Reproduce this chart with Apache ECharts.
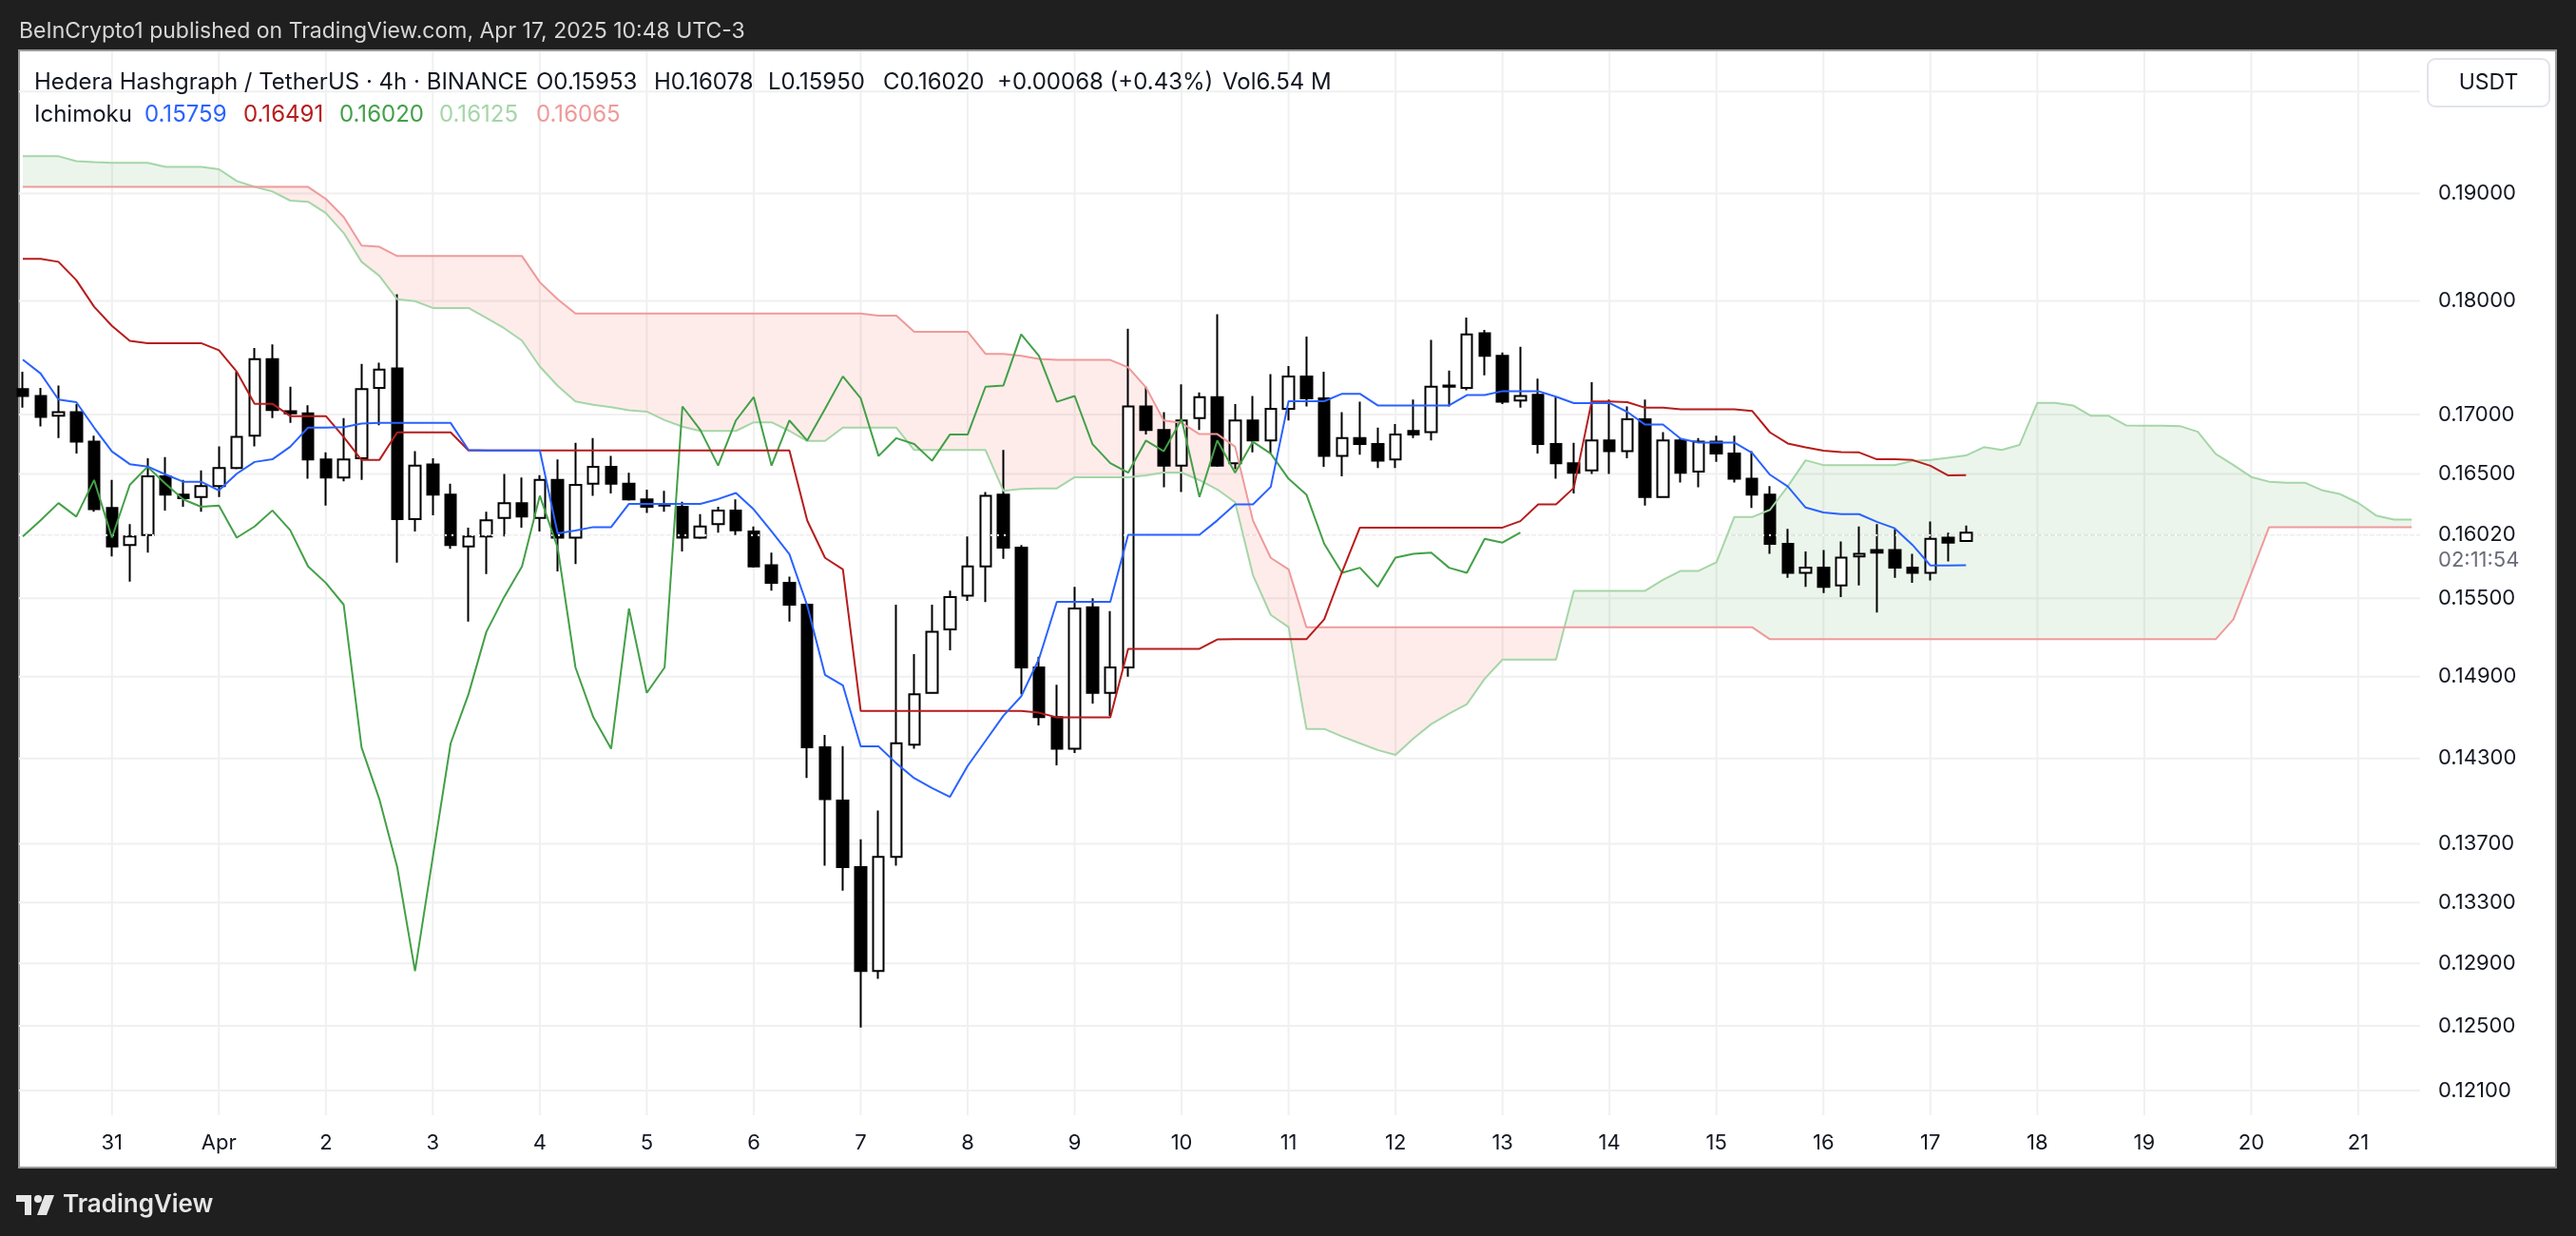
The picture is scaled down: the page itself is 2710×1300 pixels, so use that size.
<!DOCTYPE html>
<html>
<head>
<meta charset="utf-8">
<script src="https://cdn.jsdelivr.net/npm/echarts@6/dist/echarts.min.js"></script>
<style>
html,body{margin:0;padding:0;background:#1f1f1f;}
#chart{width:2710px;height:1300px;}
</style>
</head>
<body>
<div id="chart"></div>
<script>
// ---- time layout (hours relative to Apr 1 00:00) ----
const firstBarHour = -44;     // Mar 30 04:00
const barStepHours = 4;       // 4h candles
const chikouShift = 25;       // lagging span displacement (bars)

// ---- candles (Mar 30 04:00 ... Apr 17 08:00) ----
const opens = [0.1722,0.1716,0.1699,0.1702,0.1677,0.1622,0.1592,0.1600,0.1648,0.1633,
0.1631,0.1640,0.1655,0.1682,0.1748,0.1703,0.1701,0.1662,0.1647,0.1663,
0.1723,0.1740,0.1613,0.1658,0.1633,0.1591,0.1599,0.1614,0.1626,0.1614,
0.1645,0.1598,0.1642,0.1656,0.1642,0.1629,0.1625,0.1623,0.1598,0.1609,
0.1620,0.1603,0.1576,0.1562,0.1545,0.1438,0.1400,0.1354,0.1285,0.1361,
0.1440,0.1478,0.1526,0.1552,0.1575,0.1633,0.1590,0.1497,0.1460,0.1437,
0.1543,0.1478,0.1497,0.1707,0.1687,0.1657,0.1697,0.1715,0.1659,0.1695,
0.1678,0.1705,0.1733,0.1714,0.1665,0.1680,0.1675,0.1662,0.1686,0.1685,
0.1724,0.1723,0.1771,0.1751,0.1712,0.1717,0.1675,0.1659,0.1653,0.1678,
0.1669,0.1696,0.1631,0.1678,0.1652,0.1677,0.1667,0.1646,0.1633,0.1593,
0.1570,0.1574,0.1560,0.1583,0.1588,0.1588,0.1574,0.1570,0.1598,0.15953];
const closes = [0.1716,0.1698,0.1702,0.1677,0.1621,0.1591,0.1599,0.1648,0.1633,0.1630,
0.1640,0.1655,0.1681,0.1748,0.1704,0.1701,0.1662,0.1647,0.1662,0.1722,
0.1739,0.1613,0.1657,0.1633,0.1592,0.1599,0.1612,0.1626,0.1615,0.1645,
0.1598,0.1641,0.1656,0.1642,0.1629,0.1623,0.1624,0.1598,0.1607,0.1620,
0.1604,0.1575,0.1562,0.1545,0.1438,0.1401,0.1354,0.1285,0.1361,0.1441,
0.1477,0.1524,0.1551,0.1575,0.1632,0.1590,0.1497,0.1460,0.1437,0.1542,
0.1478,0.1497,0.1707,0.1687,0.1657,0.1695,0.1715,0.1657,0.1695,0.1678,
0.1705,0.1733,0.1714,0.1665,0.1680,0.1675,0.1661,0.1683,0.1683,0.1724,
0.1725,0.1770,0.1751,0.1711,0.1716,0.1675,0.1659,0.1651,0.1678,0.1669,
0.1696,0.1631,0.1678,0.1651,0.1677,0.1667,0.1646,0.1633,0.1593,0.1570,
0.1574,0.1559,0.1582,0.1585,0.1586,0.1574,0.1570,0.1597,0.1594,0.16020];
const lows = [0.1706,0.1690,0.1680,0.1667,0.1619,0.1583,0.1563,0.1586,0.1620,0.1623,
0.1619,0.1631,0.1654,0.1673,0.1697,0.1693,0.1646,0.1624,0.1644,0.1645,
0.1691,0.1578,0.1603,0.1616,0.1589,0.1532,0.1569,0.1599,0.1606,0.1603,
0.1571,0.1577,0.1632,0.1634,0.1628,0.1618,0.1619,0.1587,0.1597,0.1602,
0.1600,0.1574,0.1556,0.1532,0.1416,0.1355,0.1338,0.1249,0.1280,0.1355,
0.1437,0.1478,0.1510,0.1548,0.1547,0.1581,0.1477,0.1454,0.1425,0.1434,
0.1470,0.1461,0.1490,0.1683,0.1639,0.1635,0.1687,0.1656,0.1654,0.1668,
0.1667,0.1695,0.1707,0.1656,0.1648,0.1666,0.1655,0.1655,0.1680,0.1678,
0.1707,0.1721,0.1734,0.1709,0.1706,0.1667,0.1646,0.1634,0.1650,0.1650,
0.1663,0.1624,0.1631,0.1643,0.1639,0.1660,0.1643,0.1622,0.1585,0.1566,
0.1559,0.1554,0.1551,0.1560,0.1539,0.1566,0.1562,0.1564,0.1579,0.15950];
const highs = [0.1737,0.1723,0.1725,0.1709,0.1682,0.1645,0.1609,0.1663,0.1664,0.1645,
0.1653,0.1673,0.1737,0.1758,0.1761,0.1724,0.1708,0.1668,0.1697,0.1744,
0.1745,0.1806,0.1669,0.1663,0.1642,0.1606,0.1619,0.1650,0.1647,0.1649,
0.1662,0.1676,0.1680,0.1665,0.1651,0.1637,0.1636,0.1627,0.1617,0.1623,
0.1629,0.1607,0.1586,0.1567,0.1546,0.1447,0.1439,0.1373,0.1393,0.1545,
0.1507,0.1545,0.1556,0.1599,0.1635,0.1670,0.1592,0.1505,0.1484,0.1559,
0.1550,0.1540,0.1775,0.1724,0.1702,0.1726,0.1719,0.1788,0.1709,0.1716,
0.1735,0.1742,0.1768,0.1737,0.1702,0.1711,0.1689,0.1692,0.1713,0.1765,
0.1738,0.1785,0.1774,0.1754,0.1759,0.1731,0.1715,0.1676,0.1728,0.1713,
0.1707,0.1713,0.1685,0.1680,0.1680,0.1682,0.1682,0.1669,0.1640,0.1605,
0.1587,0.1588,0.1595,0.1607,0.1609,0.1605,0.1585,0.1611,0.1602,0.16078];

// ---- Ichimoku lines ----
const tenkan = [0.17477,0.17355,0.17129,0.17107,0.16889,0.16688,0.16582,0.16562,0.16496,0.16436,
0.16436,0.16364,0.16502,0.16600,0.16622,0.16728,0.16889,0.16889,0.16894,0.16923,
0.16929,0.16929,0.16929,0.16929,0.16929,0.16700,0.16696,0.16696,0.16696,0.16696,
0.16014,0.16037,0.16065,0.16065,0.16254,0.16254,0.16254,0.16254,0.16254,0.16293,
0.16343,0.16208,0.16030,0.15848,0.15443,0.14913,0.14836,0.14387,0.14387,0.14265,
0.14159,0.14089,0.14026,0.14247,0.14427,0.14610,0.14753,0.15035,0.15472,0.15472,
0.15472,0.15472,0.16003,0.16003,0.16003,0.16003,0.16003,0.16119,0.16250,0.16250,
0.16393,0.17115,0.17115,0.17115,0.17179,0.17179,0.17079,0.17079,0.17079,0.17079,
0.17079,0.17168,0.17168,0.17202,0.17202,0.17202,0.17154,0.17099,0.17099,0.17099,
0.17023,0.16915,0.16915,0.16795,0.16763,0.16763,0.16763,0.16675,0.16494,0.16397,
0.16224,0.16183,0.16170,0.16170,0.16107,0.16055,0.15921,0.15758,0.15758,0.15759];
const kijun = [0.18385,0.18385,0.18358,0.18190,0.17948,0.17776,0.17642,0.17622,0.17622,0.17622,
0.17622,0.17559,0.17371,0.17093,0.17093,0.16987,0.16987,0.16987,0.16809,0.16616,
0.16616,0.16849,0.16849,0.16849,0.16849,0.16696,0.16696,0.16696,0.16696,0.16696,
0.16696,0.16696,0.16696,0.16696,0.16696,0.16696,0.16696,0.16696,0.16696,0.16696,
0.16696,0.16696,0.16696,0.16696,0.16118,0.15818,0.15727,0.14646,0.14646,0.14646,
0.14646,0.14646,0.14646,0.14646,0.14646,0.14646,0.14646,0.14633,0.14599,0.14599,
0.14599,0.14599,0.15111,0.15111,0.15111,0.15111,0.15111,0.15182,0.15184,0.15184,
0.15184,0.15184,0.15184,0.15337,0.15707,0.16061,0.16061,0.16061,0.16061,0.16061,
0.16061,0.16061,0.16061,0.16061,0.16113,0.16250,0.16250,0.16385,0.17112,0.17112,
0.17107,0.17059,0.17059,0.17045,0.17045,0.17045,0.17045,0.17032,0.16849,0.16755,
0.16723,0.16694,0.16683,0.16680,0.16622,0.16622,0.16616,0.16568,0.16488,0.16491];
const spanA = [0.19359,0.19359,0.19359,0.19312,0.19303,0.19295,0.19295,0.19295,0.19256,0.19256,
0.19256,0.19233,0.19120,0.19063,0.19019,0.18932,0.18921,0.18814,0.18626,0.18358,
0.18229,0.18015,0.17998,0.17937,0.17937,0.17937,0.17847,0.17755,0.17645,0.17416,
0.17248,0.17112,0.17084,0.17064,0.17038,0.17026,0.16953,0.16897,0.16861,0.16861,
0.16861,0.16934,0.16934,0.16861,0.16776,0.16776,0.16889,0.16889,0.16889,0.16889,
0.16700,0.16700,0.16700,0.16700,0.16700,0.16361,0.16376,0.16381,0.16381,0.16473,
0.16473,0.16473,0.16473,0.16488,0.16512,0.16512,0.16449,0.16372,0.16267,0.15682,
0.15371,0.15276,0.14514,0.14514,0.14459,0.14410,0.14361,0.14326,0.14445,0.14549,
0.14626,0.14696,0.14885,0.15029,0.15029,0.15029,0.15029,0.15558,0.15558,0.15558,
0.15558,0.15558,0.15645,0.15715,0.15715,0.15784,0.16146,0.16146,0.16205,0.16397,
0.16614,0.16574,0.16574,0.16574,0.16574,0.16574,0.16608,0.16616,0.16635,0.16654,
0.16724,0.16700,0.16742,0.17101,0.17101,0.17079,0.16990,0.16990,0.16907,0.16905,
0.16905,0.16902,0.16854,0.16667,0.16574,0.16475,0.16436,0.16428,0.16428,0.16364,
0.16333,0.16261,0.16159,0.16125,0.16125];
const spanB = [0.19063,0.19063,0.19063,0.19063,0.19063,0.19063,0.19063,0.19063,0.19063,0.19063,
0.19063,0.19063,0.19063,0.19063,0.19063,0.19063,0.19063,0.18948,0.18776,0.18509,
0.18497,0.18411,0.18411,0.18411,0.18411,0.18411,0.18411,0.18411,0.18411,0.18170,
0.18015,0.17887,0.17887,0.17887,0.17887,0.17887,0.17887,0.17887,0.17887,0.17887,
0.17887,0.17887,0.17887,0.17887,0.17887,0.17887,0.17887,0.17887,0.17868,0.17868,
0.17723,0.17723,0.17723,0.17723,0.17527,0.17527,0.17511,0.17483,0.17474,0.17474,
0.17474,0.17474,0.17409,0.17235,0.16949,0.16929,0.16834,0.16834,0.16728,0.16119,
0.15818,0.15727,0.15276,0.15276,0.15276,0.15276,0.15276,0.15276,0.15276,0.15276,
0.15276,0.15276,0.15276,0.15276,0.15276,0.15276,0.15276,0.15276,0.15276,0.15276,
0.15276,0.15276,0.15276,0.15276,0.15276,0.15276,0.15276,0.15276,0.15184,0.15184,
0.15184,0.15184,0.15184,0.15184,0.15184,0.15184,0.15184,0.15184,0.15184,0.15184,
0.15184,0.15184,0.15184,0.15184,0.15184,0.15184,0.15184,0.15184,0.15184,0.15184,
0.15184,0.15184,0.15184,0.15184,0.15337,0.15695,0.16065,0.16065,0.16065,0.16065,
0.16065,0.16065,0.16065,0.16065,0.16065];

// ---- axes ----
const dayHours = [-24,0,24,48,72,96,120,144,168,192,216,240,264,288,312,336,360,384,408,432,456,480];
const dayLabels = ['31','Apr','2','3','4','5','6','7','8','9','10','11','12','13','14','15','16','17','18','19','20','21'];
const priceTicks = [0.19,0.18,0.17,0.165,0.155,0.149,0.143,0.137,0.133,0.129,0.125,0.121];
const gridPrices = [0.20,0.19,0.18,0.17,0.165,0.16,0.155,0.149,0.143,0.137,0.133,0.129,0.125,0.121];
const lastPrice = 0.16020;
const countdown = '02:11:54';

// ---- header texts ----
const publishedText = 'BeInCrypto1 published on TradingView.com, Apr 17, 2025 10:48 UTC-3';
const titleParts = [
  ['Hedera Hashgraph / TetherUS · 4h · BINANCE', 36],
  ['O0.15953', 564], ['H0.16078', 688], ['L0.15950', 808], ['C0.16020', 929],
  ['+0.00068 (+0.43%)', 1049], ['Vol6.54 M', 1286]
];
const ichiLegend = [
  ['Ichimoku', 36, '#131722'], ['0.15759', 152, '#2962FF'], ['0.16491', 256, '#B71C1C'],
  ['0.16020', 357, '#43A047'], ['0.16125', 462, '#A5D6A7'], ['0.16065', 564, '#EF9A9A']
];

const FONT = 'Inter, "Noto Sans", Roboto, sans-serif';
const barTime = i => firstBarHour + barStepHours * i;

const candleData = opens.map((o, i) => [barTime(i), o, closes[i], lows[i], highs[i]]);
const toXY = arr => arr.map((v, i) => [barTime(i), v]);
const chikouData = closes.slice(chikouShift).map((v, i) => [barTime(i), v]);

const GREEN_FILL = 'rgba(67,160,71,0.1)';
const RED_FILL = 'rgba(244,67,54,0.1)';

function renderCloud(params, api) {
  const polys = [];
  let runA = [], runB = [], runSign = 0, prev = null;
  function flush() {
    if (runA.length >= 2) {
      polys.push({
        type: 'polygon',
        shape: { points: runA.concat(runB.slice().reverse()) },
        style: { fill: runSign >= 0 ? GREEN_FILL : RED_FILL },
        silent: true
      });
    }
  }
  for (let i = 0; i < spanA.length; i++) {
    const t = barTime(i);
    const pa = api.coord([t, spanA[i]]);
    const pb = api.coord([t, spanB[i]]);
    const d = spanA[i] - spanB[i];
    if (prev && prev.d * d < 0) {
      const e0 = prev.pa[1] - prev.pb[1], e1 = pa[1] - pb[1];
      const f = e0 / (e0 - e1);
      const c = [prev.pa[0] + f * (pa[0] - prev.pa[0]), prev.pa[1] + f * (pa[1] - prev.pa[1])];
      runA.push(c); runB.push(c);
      flush();
      runA = [c]; runB = [c]; runSign = 0;
    }
    runA.push(pa); runB.push(pb);
    if (runSign === 0 && d !== 0) runSign = d > 0 ? 1 : -1;
    if (d === 0 && runSign !== 0) {
      flush();
      runA = [pa]; runB = [pb]; runSign = 0;
    }
    prev = { pa, pb, d };
  }
  flush();
  return { type: 'group', children: polys };
}

function renderGrid(params, api) {
  const cs = params.coordSys;
  const lines = [];
  const style = { stroke: '#f0f0f0', lineWidth: 2 };
  gridPrices.forEach(p => {
    const y = api.coord([dayHours[0], p])[1];
    lines.push({ type: 'line', shape: { x1: cs.x, y1: y, x2: cs.x + cs.width, y2: y }, style, silent: true });
  });
  dayHours.forEach(h => {
    const x = api.coord([h, gridPrices[0]])[0];
    lines.push({ type: 'line', shape: { x1: x, y1: cs.y, x2: x, y2: cs.y + cs.height }, style, silent: true });
  });
  return { type: 'group', children: lines };
}

const chart = echarts.init(document.getElementById('chart'), null, { renderer: 'canvas' });

const option = {
  animation: false,
  backgroundColor: '#1f1f1f',
  textStyle: { fontFamily: FONT },
  grid: { left: 20, right: 164, top: 54, bottom: 127, containLabel: false },
  xAxis: {
    type: 'value',
    min: -44.853,
    max: 493.88,
    axisLine: { show: false },
    axisTick: { show: false, customValues: dayHours },
    splitLine: { show: false },
    axisLabel: {
      customValues: dayHours,
      margin: 18,
      color: '#131722',
      fontSize: 22,
      fontFamily: FONT,
      formatter: v => { const k = dayHours.indexOf(v); return k >= 0 ? dayLabels[k] : ''; }
    }
  },
  yAxis: {
    type: 'log',
    position: 'right',
    min: 0.11951,
    max: 0.20408,
    axisLine: { show: false },
    axisTick: { show: false, customValues: priceTicks },
    splitLine: { show: false },
    axisLabel: {
      customValues: priceTicks,
      margin: 19,
      align: 'left',
      color: '#131722',
      fontSize: 22,
      fontFamily: FONT,
      formatter: v => Number(v).toFixed(5)
    }
  },
  graphic: [
    { type: 'rect', z: -10, shape: { x: 20, y: 53, width: 2669, height: 1175 }, style: { fill: '#ffffff', stroke: '#9a9a9a', lineWidth: 2 }, silent: true },
    { type: 'text', z: 50, style: { text: publishedText, x: 20, y: 33, fill: '#d6d6d6', fontSize: 23, fontFamily: FONT, verticalAlign: 'middle' } },
    ...titleParts.map(([t, x]) => ({ type: 'text', z: 50, style: { text: t, x: x, y: 87, fill: '#131722', fontSize: 24, fontFamily: FONT, verticalAlign: 'middle' } })),
    ...ichiLegend.map(([t, x, c]) => ({ type: 'text', z: 50, style: { text: t, x: x, y: 121, fill: c, fontSize: 24, fontFamily: FONT, verticalAlign: 'middle' } })),
    { type: 'rect', z: 50, shape: { x: 2554, y: 62, width: 128, height: 50, r: 8 }, style: { fill: '#ffffff', stroke: '#e0e3eb', lineWidth: 2 } },
    { type: 'text', z: 51, style: { text: 'USDT', x: 2618, y: 87, fill: '#131722', fontSize: 23, fontFamily: FONT, align: 'center', verticalAlign: 'middle' } },
    // TradingView logo (footer)
    { type: 'rect', z: 50, shape: { x: 17, y: 1257, width: 16, height: 7 }, style: { fill: '#e6e6e6' } },
    { type: 'rect', z: 50, shape: { x: 26, y: 1257, width: 7, height: 21 }, style: { fill: '#e6e6e6' } },
    { type: 'circle', z: 50, shape: { cx: 40, cy: 1261, r: 4 }, style: { fill: '#e6e6e6' } },
    { type: 'polygon', z: 50, shape: { points: [[47, 1257], [57, 1257], [49, 1278], [39, 1278]] }, style: { fill: '#e6e6e6' } },
    { type: 'text', z: 50, style: { text: 'TradingView', x: 66, y: 1267, fill: '#e6e6e6', fontSize: 26, fontWeight: 600, fontFamily: FONT, verticalAlign: 'middle' } }
  ],
  series: [
    {
      type: 'custom', name: 'grid', z: 0, silent: true, clip: true,
      data: [[dayHours[0], gridPrices[0]]],
      encode: { x: 0, y: 1 },
      renderItem: renderGrid
    },
    {
      type: 'custom', name: 'cloud', z: 1, silent: true, clip: true,
      data: [[barTime(0), spanA[0]]],
      encode: { x: 0, y: 1 },
      renderItem: renderCloud
    },
    {
      type: 'candlestick', name: 'HBARUSDT', z: 2, silent: true,
      data: candleData,
      encode: { x: 0, y: [1, 2, 3, 4] },
      barWidth: 12,
      itemStyle: { color: '#ffffff', color0: '#000000', borderColor: '#000000', borderColor0: '#000000', borderWidth: 2 },
      markLine: {
        z: 3,
        silent: true,
        symbol: ['none', 'none'],
        lineStyle: { color: '#ffffff', width: 2, type: [2, 5] },
        label: {
          show: true,
          position: 'end',
          distance: 19,
          padding: [27, 0, 0, 0],
          formatter: () => '{p|' + lastPrice.toFixed(5) + '}\n{t|' + countdown + '}',
          rich: {
            p: { color: '#131722', fontSize: 22, fontFamily: FONT, lineHeight: 27 },
            t: { color: '#6a6d78', fontSize: 22, fontFamily: FONT, lineHeight: 27 }
          }
        },
        data: [{ yAxis: lastPrice }]
      }
    },
    { type: 'line', name: 'Leading Span A', z: 4, data: toXY(spanA), showSymbol: false, silent: true, lineStyle: { color: '#A5D6A7', width: 2 } },
    { type: 'line', name: 'Leading Span B', z: 4, data: toXY(spanB), showSymbol: false, silent: true, lineStyle: { color: '#EF9A9A', width: 2 } },
    { type: 'line', name: 'Lagging Span', z: 5, data: chikouData, showSymbol: false, silent: true, lineStyle: { color: '#43A047', width: 2 } },
    { type: 'line', name: 'Base Line', z: 5, data: toXY(kijun), showSymbol: false, silent: true, lineStyle: { color: '#B71C1C', width: 2 } },
    { type: 'line', name: 'Conversion Line', z: 6, data: toXY(tenkan), showSymbol: false, silent: true, lineStyle: { color: '#2962FF', width: 2 } }
  ]
};
chart.setOption(option);
</script>
</body>
</html>
